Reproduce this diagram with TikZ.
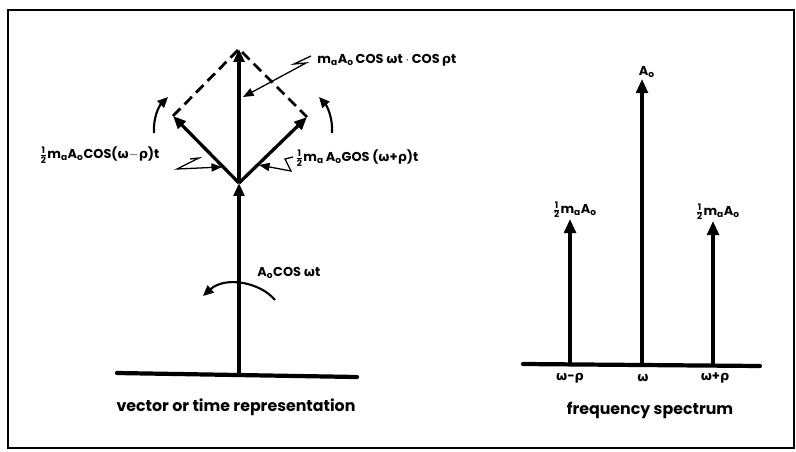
\documentclass[tikz,border=0pt]{standalone}
\usepackage{fontspec}
\setmainfont{Poppins}
\newfontfamily\greek{DejaVu Sans}
\usepackage{tikz}
\usetikzlibrary{calc,positioning,arrows.meta}

\newcommand{\Ao}{A\textsubscript{o}}
\newcommand{\ma}{m\textsubscript{a}}
\newcommand{\half}{$\mathbf{\frac{1}{2}}$}
\newcommand{\om}{{\greek ω}}
\newcommand{\rh}{{\greek ρ}}

\tikzset{
  vec/.style={line width=2.8pt, -{Triangle[length=11pt,width=9pt]}},
  spike/.style={line width=2.8pt, -{Triangle[length=12pt,width=10pt]}},
  ground/.style={line width=3.6pt, line cap=round},
  turn/.style={line width=1.8pt, -{Triangle[length=9pt,width=8pt]}},
  leader/.style={line width=1.1pt, -{Triangle[length=9pt,width=7pt]}},
  lbl/.style={font=\fontsize{11}{13}\selectfont\bfseries, inner sep=1pt},
  caption/.style={font=\fontsize{13.5}{16}\selectfont\bfseries, inner sep=1pt}
}

\begin{document}
\begin{tikzpicture}[x=0.03cm, y=-0.03cm]
\useasboundingbox (0,0) rectangle (796,451);

% Frame
\draw[line width=2pt] (8,10) rectangle (794,448);

% Vector representation
\coordinate (gl) at (117,373);
\coordinate (gr) at (357,377);
\coordinate (base) at (239,375);
\coordinate (join) at (239,183);
\coordinate (top) at (239,49);
\coordinate (ltip) at (173,116);
\coordinate (rtip) at (307,117);
\draw[ground] (gl) -- (gr);
\draw[vec] (base) -- (join);
\draw[vec] (join) -- (top);
\draw[vec] (join) -- (ltip);
\draw[vec] (join) -- (rtip);
\draw[line width=2.4pt, dash pattern=on 9pt off 5pt] (ltip) -- (top) -- (rtip);

% Rotation arrows
\draw[turn] (154,133) .. controls (153,118) and (159,106) .. (168,97);
\draw[turn] (332,133) .. controls (333,118) and (327,106) .. (319,97);
\draw[turn] (275,300) .. controls (260,282) and (225,276) .. (203,296);

% Labels
\node[lbl, anchor=west] (lblsum) at (316,60) {\ma\Ao\,COS \om t $\cdot$ COS\,\rh t};
\node[lbl, anchor=west] (lbllow) at (38,155) {\half\ma\Ao COS(\om$-$\rh)t};
\node[lbl, anchor=west] (lblhigh) at (294,158) {\half\ma\,\Ao GOS (\om+\rh)t};
\node[lbl, anchor=west] (lblcar) at (256,273) {\Ao COS \om t};
\node[caption] (lblvec) at (236,407) {vector or time representation};

% Leaders
\coordinate (sumhit) at (243,97);
\coordinate (lowhit) at (222,167);
\coordinate (highhit) at (259,165);
\draw[leader] (311,56) -- (294,64) -- (306,63) -- (sumhit);
\draw[leader] (190,159) -- (199,158) -- (177,169) -- (lowhit);
\draw[leader] (293,157) -- (285,159) -- (291,171) -- (highhit);

% Frequency spectrum
\coordinate (sl) at (523,364);
\coordinate (sr) at (760,366);
\coordinate (fl) at (570,365);
\coordinate (fc) at (642,365);
\coordinate (fr) at (713,365);
\coordinate (tl) at (570,219);
\coordinate (tc) at (642,79);
\coordinate (tr) at (713,221);
\draw[ground] (sl) -- (sr);
\draw[spike] (fl) -- (tl);
\draw[spike] (fc) -- (tc);
\draw[spike] (fr) -- (tr);

\node[lbl, anchor=south] (amplow) at ([xshift=4pt]tl) {\half\ma\Ao};
\node[lbl, anchor=south] (ampc) at ([xshift=4pt]tc) {\Ao};
\node[lbl, anchor=south] (amphigh) at ([xshift=4pt]tr) {\half\ma\Ao};

\node[lbl] (fqlow) at (570,378) {\om-\rh};
\node[lbl] (fqc) at (643,378) {\om};
\node[lbl] (fqhigh) at (715,378) {\om+\rh};
\node[caption] (lblfreq) at (650,410) {frequency spectrum};

\end{tikzpicture}
\end{document}
